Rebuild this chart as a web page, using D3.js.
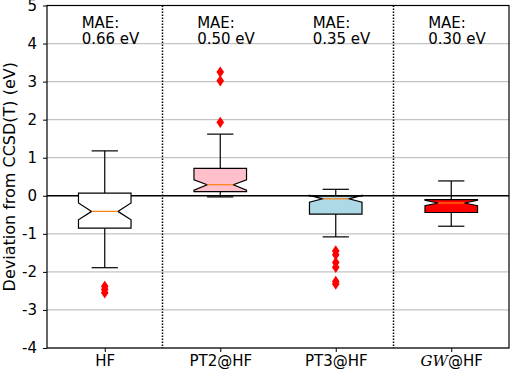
<!DOCTYPE html>
<html>
<head>
<meta charset="utf-8">
<script src="https://cdn.jsdelivr.net/npm/d3@7"></script>
<style>
  body { margin: 0; background: #fff; }
  svg { display: block; font-family: "DejaVu Sans", sans-serif; }
</style>
</head>
<body>
<div id="main"></div>
<script>
const W = 512, H = 369;
const margin = {top: 5.5, right: 3, bottom: 21, left: 47};

// box plot statistics (eV)
const categories = ['HF', 'PT2@HF', 'PT3@HF', 'GW@HF'];
const whiskerLo  = [-1.89, -0.03, -1.08, -0.80];
const q1         = [-0.85,  0.11, -0.48, -0.44];
const median     = [-0.41,  0.29, -0.08, -0.19];
const q3         = [ 0.07,  0.72, -0.01, -0.10];
const whiskerHi  = [ 1.18,  1.62,  0.17,  0.39];
const notchLo    = [-0.63,  0.15, -0.17, -0.26];
const notchHi    = [-0.19,  0.42,  0.01, -0.12];
const outliers   = [
  [-2.38, -2.46, -2.55],
  [1.93, 3.02, 3.25],
  [-1.45, -1.55, -1.75, -1.88, -2.25, -2.32],
  []
];
const maeValues  = ['0.66', '0.50', '0.35', '0.30'];
const boxColors  = ['#ffffff', 'pink', 'lightblue', 'red'];
const yTicks     = [-4, -3, -2, -1, 0, 1, 2, 3, 4, 5];

const svg = d3.select('#main')
  .append('svg')
  .attr('width', W)
  .attr('height', H);

const x = d3.scalePoint()
  .domain(categories)
  .range([margin.left, W - margin.right])
  .padding(0.5);

const y = d3.scaleLinear()
  .domain([-4, 5])
  .range([H - margin.bottom, margin.top]);

const step = x.step();
const bw = step * 0.455;

// grid
svg.append('g')
  .selectAll('line')
  .data(yTicks.filter(d => d !== 0))
  .enter()
  .append('line')
  .attr('x1', margin.left).attr('x2', W - margin.right)
  .attr('y1', d => y(d)).attr('y2', d => y(d))
  .attr('stroke', '#c4c4c4')
  .attr('stroke-width', 1.2);

// zero line
svg.append('line')
  .attr('x1', margin.left).attr('x2', W - margin.right)
  .attr('y1', y(0)).attr('y2', y(0))
  .attr('stroke', '#000')
  .attr('stroke-width', 1.6);

// dotted dividers
svg.append('g')
  .selectAll('line')
  .data([categories[0], categories[2]])
  .enter()
  .append('line')
  .attr('x1', d => x(d) + step / 2).attr('x2', d => x(d) + step / 2)
  .attr('y1', margin.top).attr('y2', H - margin.bottom)
  .attr('stroke', '#000')
  .attr('stroke-width', 1.5)
  .attr('stroke-dasharray', '1.5,1.5');

// boxes
const boxes = svg.append('g')
  .selectAll('g')
  .data(categories)
  .enter()
  .append('g');

// whiskers
boxes.append('line')
  .attr('x1', d => x(d)).attr('x2', d => x(d))
  .attr('y1', (d, i) => y(whiskerHi[i])).attr('y2', (d, i) => y(q3[i]))
  .attr('stroke', '#000').attr('stroke-width', 1.2);
boxes.append('line')
  .attr('x1', d => x(d)).attr('x2', d => x(d))
  .attr('y1', (d, i) => y(whiskerLo[i])).attr('y2', (d, i) => y(q1[i]))
  .attr('stroke', '#000').attr('stroke-width', 1.2);
[whiskerHi, whiskerLo].forEach(arr => {
  boxes.append('line')
    .attr('x1', d => x(d) - bw / 4).attr('x2', d => x(d) + bw / 4)
    .attr('y1', (d, i) => y(arr[i])).attr('y2', (d, i) => y(arr[i]))
    .attr('stroke', '#000').attr('stroke-width', 1.2);
});

// notched box
boxes.append('path')
  .attr('d', (d, i) => {
    const l = x(d) - bw / 2, r = x(d) + bw / 2;
    const nl = x(d) - bw / 4, nr = x(d) + bw / 4;
    const p = d3.path();
    p.moveTo(l, y(q1[i]));
    p.lineTo(l, y(notchLo[i]));
    p.lineTo(nl, y(median[i]));
    p.lineTo(l, y(notchHi[i]));
    p.lineTo(l, y(q3[i]));
    p.lineTo(r, y(q3[i]));
    p.lineTo(r, y(notchHi[i]));
    p.lineTo(nr, y(median[i]));
    p.lineTo(r, y(notchLo[i]));
    p.lineTo(r, y(q1[i]));
    p.closePath();
    return p.toString();
  })
  .attr('fill', (d, i) => boxColors[i])
  .attr('stroke', '#000')
  .attr('stroke-width', 1.2)
  .attr('stroke-linejoin', 'miter');

// median
boxes.append('line')
  .attr('x1', d => x(d) - bw / 4).attr('x2', d => x(d) + bw / 4)
  .attr('y1', (d, i) => y(median[i])).attr('y2', (d, i) => y(median[i]))
  .attr('stroke', '#ff7f0e').attr('stroke-width', 1.2);

// outliers (thin red diamonds)
boxes.each(function(d, i) {
  d3.select(this).selectAll('path.flier')
    .data(outliers[i])
    .enter()
    .append('path')
    .attr('class', 'flier')
    .attr('d', 'M0,-5.6L3.8,0L0,5.6L-3.8,0Z')
    .attr('transform', v => `translate(${x(d)},${y(v)})`)
    .attr('fill', 'red');
});

// MAE annotations, two lines each
svg.append('g')
  .selectAll('text')
  .data(categories)
  .enter()
  .append('text')
  .attr('x', d => x(d) - step * 0.2)
  .attr('y', y(4.42))
  .attr('font-size', 15)
  .text('MAE:');
svg.append('g')
  .selectAll('text')
  .data(categories)
  .enter()
  .append('text')
  .attr('x', d => x(d) - step * 0.2)
  .attr('y', y(4.0))
  .attr('font-size', 15)
  .text((d, i) => maeValues[i] + ' eV');

// frame
svg.append('rect')
  .attr('x', margin.left).attr('y', margin.top)
  .attr('width', W - margin.left - margin.right)
  .attr('height', H - margin.top - margin.bottom)
  .attr('fill', 'none')
  .attr('stroke', '#000')
  .attr('stroke-width', 1.2);

// axes
const yAxis = svg.append('g')
  .attr('transform', `translate(${margin.left},0)`)
  .call(d3.axisLeft(y).tickValues(yTicks).tickFormat(d => String(d)).tickSize(4).tickPadding(6));
yAxis.select('.domain').remove();
yAxis.selectAll('text').attr('font-size', 15).attr('font-family', '"DejaVu Sans", sans-serif').attr('fill', '#000');
yAxis.selectAll('line').attr('stroke', '#000');

const xAxis = svg.append('g')
  .attr('transform', `translate(0,${H - margin.bottom})`)
  .call(d3.axisBottom(x).tickSize(4).tickPadding(3));
xAxis.select('.domain').remove();
xAxis.selectAll('line').attr('stroke', '#000');
xAxis.selectAll('text')
  .attr('font-size', 15)
  .attr('font-family', '"DejaVu Sans", sans-serif')
  .attr('fill', '#000')
  .each(function(d) {
    if (d === 'GW@HF') {
      const t = d3.select(this).text(null);
      t.append('tspan').attr('font-family', '"DejaVu Serif", serif').attr('font-style', 'italic').text('GW');
      t.append('tspan').text('@HF');
    }
  });

// y label
svg.append('text')
  .attr('transform', `translate(15,${(margin.top + H - margin.bottom) / 2}) rotate(-90)`)
  .attr('text-anchor', 'middle')
  .attr('font-size', 16)
  .attr('fill', '#000')
  .text('Deviation from CCSD(T) (eV)');
</script>
</body>
</html>
